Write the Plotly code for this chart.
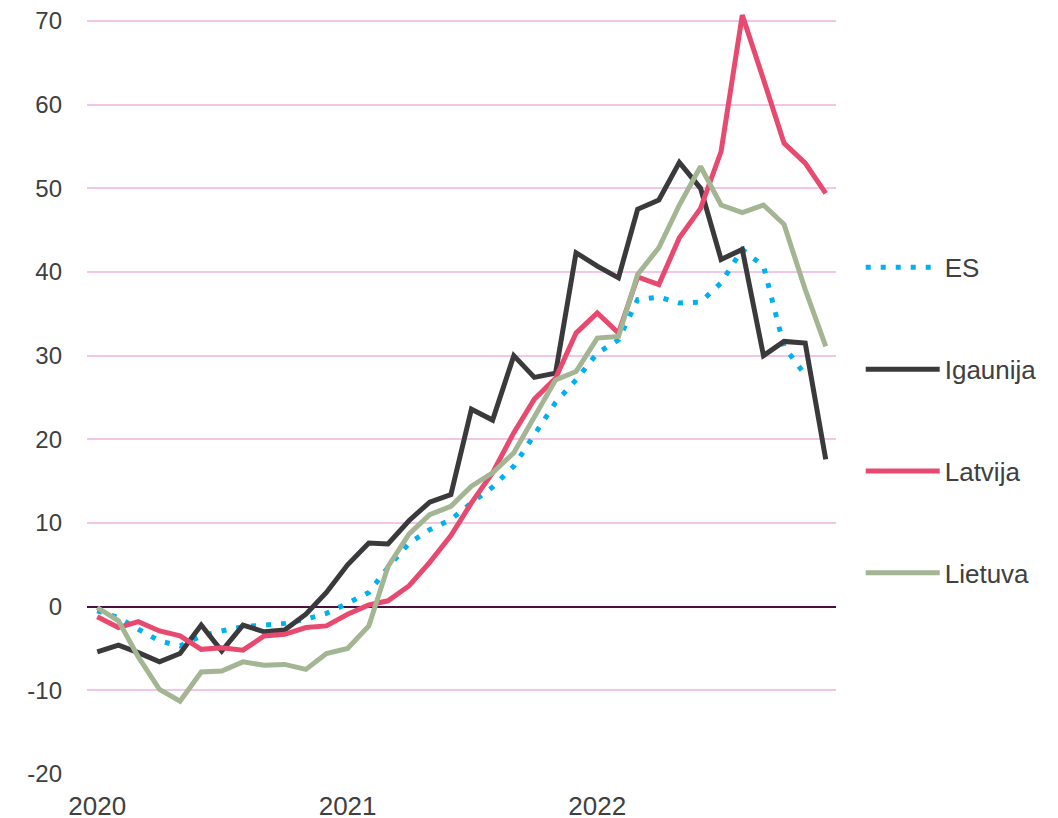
import pandas as pd
import plotly.graph_objects as go

# --- data: monthly values, Jan 2020 .. Dec 2022 ---
months = pd.date_range("2020-01-01", "2022-12-01", freq="MS")

es = [-0.5, -1.3, -2.7, -4.1, -4.7, -3.5, -2.9, -2.4, -2.2, -2.0, -1.5, -0.8,
      0.4, 1.7, 4.7, 7.6, 9.2, 10.4, 12.4, 14.3, 16.8, 20.6, 24.4, 27.1,
      30.3, 31.9, 36.7, 37.0, 36.3, 36.4, 38.7, 42.7, 40.7, 31.1, 27.7, None]

igaunija = [-5.4, -4.6, -5.5, -6.6, -5.6, -2.2, -5.3, -2.2, -3.0, -2.8, -0.9, 1.7,
            5.0, 7.6, 7.5, 10.3, 12.5, 13.4, 23.6, 22.3, 30.0, 27.4, 27.9, 42.3,
            40.7, 39.3, 47.5, 48.6, 53.1, 50.0, 41.5, 42.7, 30.0, 31.7, 31.5, 17.6]

latvija = [-1.2, -2.5, -1.8, -2.9, -3.5, -5.1, -4.9, -5.2, -3.5, -3.3, -2.5, -2.3,
           -0.9, 0.2, 0.7, 2.5, 5.3, 8.5, 12.4, 16.0, 20.8, 24.8, 27.3, 32.7,
           35.1, 32.7, 39.4, 38.5, 44.1, 47.6, 54.4, 70.7, 63.0, 55.4, 53.0, 49.4]

lietuva = [-0.1, -1.7, -6.0, -9.9, -11.3, -7.8, -7.7, -6.6, -7.0, -6.9, -7.5, -5.6,
           -5.0, -2.3, 4.8, 8.7, 11.0, 12.0, 14.4, 16.0, 18.4, 22.6, 27.1, 28.1,
           32.1, 32.3, 39.7, 42.9, 48.0, 52.6, 48.0, 47.1, 48.0, 45.7, 37.9, 31.1]

year_ticks = ["2020-01-01", "2021-01-01", "2022-01-01"]
year_labels = ["2020", "2021", "2022"]

y_ticks = [-20, -10, 0, 10, 20, 30, 40, 50, 60, 70]
y_labels = ["-20", "-10", "0", "10", "20", "30", "40", "50", "60", "70"]

series = [
    ("ES", es, "#00B0F0", "5px,10px"),
    ("Igaunija", igaunija, "#3A3A3C", "solid"),
    ("Latvija", latvija, "#E84A6F", "solid"),
    ("Lietuva", lietuva, "#A4B593", "solid"),
]

fig = go.Figure()

for name, vals, color, dash in series:
    fig.add_trace(go.Scatter(
        x=months,
        y=vals,
        mode="lines",
        name=name,
        legendgroup=name,
        line=dict(color=color, width=5, dash=dash),
    ))

fig.update_layout(
    width=1058,
    height=818,
    plot_bgcolor="white",
    paper_bgcolor="white",
    font=dict(family="Liberation Sans, Arial, sans-serif", size=24, color="#404040"),
    margin=dict(l=79, r=230, t=0, b=52),
    showlegend=True,
    legend=dict(
        x=1.033, y=0.692, xanchor="left", yanchor="top",
        font=dict(size=26, color="#404040"),
        tracegroupgap=65,
        itemwidth=74,
        bgcolor="rgba(0,0,0,0)",
    ),
)

fig.update_xaxes(
    range=["2019-12-17", "2022-12-16"],
    tickvals=year_ticks,
    ticktext=year_labels,
    showgrid=False,
    showline=False,
    zeroline=False,
    ticks="",
    ticklabelstandoff=14,
    ticklabeloverflow="allow",
    tickfont=dict(size=26, color="#404040"),
)

fig.update_yaxes(
    range=[-20, 71.55],
    tickvals=y_ticks,
    ticktext=y_labels,
    showgrid=True,
    gridcolor="#F2C6E6",
    gridwidth=2,
    zeroline=True,
    zerolinecolor="#4A1042",
    zerolinewidth=2,
    showline=False,
    ticks="",
    ticklabelstandoff=24,
    ticklabeloverflow="allow",
    tickfont=dict(size=24, color="#404040"),
)

fig.write_html("out.html")
